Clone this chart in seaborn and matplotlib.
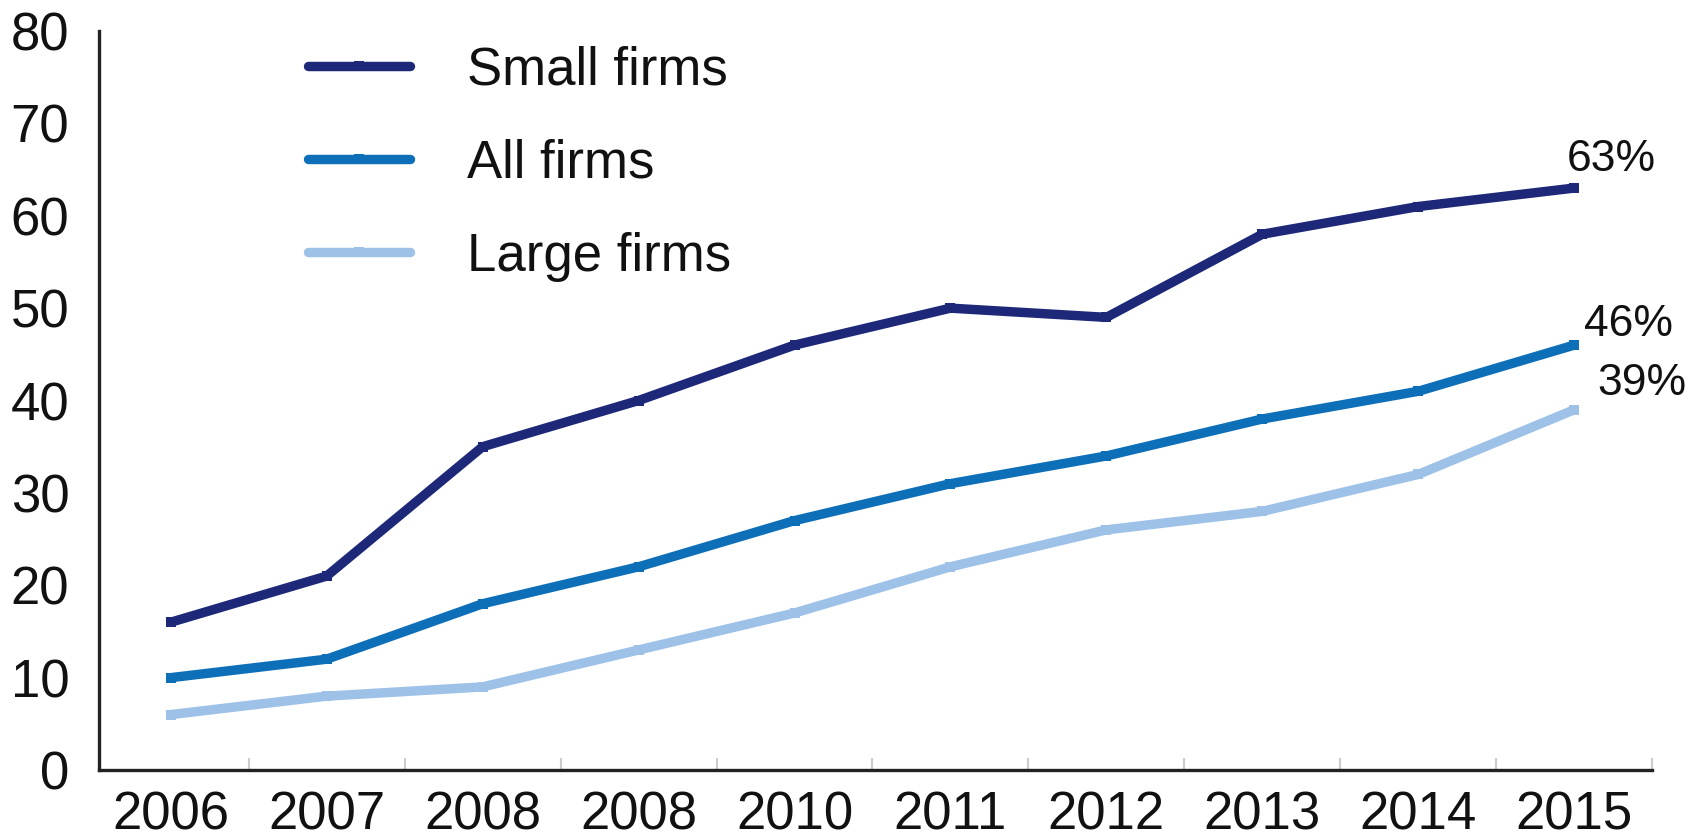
import numpy as np
import pandas as pd
import matplotlib
matplotlib.use("Agg")
import matplotlib.pyplot as plt
import seaborn as sns
from matplotlib.ticker import FixedLocator

years = ["2006", "2007", "2008", "2008", "2010", "2011", "2012", "2013", "2014", "2015"]
small_firms = [16, 21, 35, 40, 46, 50, 49, 58, 61, 63]
all_firms = [10, 12, 18, 22, 27, 31, 34, 38, 41, 46]
large_firms = [6, 8, 9, 13, 17, 22, 26, 28, 32, 39]
series_names = ["Small firms", "All firms", "Large firms"]
end_labels = ["63%", "46%", "39%"]
colors = ["#1d2878", "#0e6fb9", "#9dc1e7"]

sns.set_style("white")
plt.rcParams["font.family"] = ["Liberation Sans", "DejaVu Sans"]

# long-form table, x is the position of each year on the axis
pos = np.arange(len(years))
df = pd.DataFrame({
    "pos": np.tile(pos, 3),
    "value": small_firms + all_firms + large_firms,
    "series": np.repeat(series_names, len(years)),
})

fig = plt.figure(figsize=(16.9, 8.38), dpi=100)
ax = fig.add_axes([0.0586, 0.0811, 0.919, 0.8819])

sns.lineplot(data=df, x="pos", y="value", hue="series", hue_order=series_names,
             palette=colors, linewidth=6.8, marker="s", markersize=7,
             markeredgewidth=0, ax=ax)

# percentage labels at the end of each line
for name, lab, dy, dx in zip(series_names, end_labels, [6, 0, 4], [-5, 7, 17]):
    last = df[df["series"] == name]["value"].iloc[-1]
    ax.annotate(lab, xy=(pos[-1], last), xytext=(dx, dy), textcoords="offset points",
                ha="left", va="bottom", fontsize=32, color="#111111")

ax.set_xlim(-0.46, len(years) - 0.5)
ax.set_ylim(0, 80)
ax.set_yticks(range(0, 81, 10))
ax.set_xticks(pos)
ax.set_xticklabels(years)
ax.xaxis.set_minor_locator(FixedLocator(list(pos + 0.5)))
ax.tick_params(axis="x", which="major", bottom=False, labelsize=38, pad=11,
               labelcolor="#111111")
ax.tick_params(axis="x", which="minor", bottom=True, direction="in", length=9,
               width=1.5, color="#cccccc")
ax.tick_params(axis="y", left=False, labelsize=38, pad=18, labelcolor="#111111")
ax.set_xlabel("")
ax.set_ylabel("")

sns.despine(ax=ax)
for side in ["left", "bottom"]:
    ax.spines[side].set_linewidth(2.4)
    ax.spines[side].set_color("#222222")

ax.legend(loc="upper left", bbox_to_anchor=(0.182, 0.946), bbox_transform=fig.transFigure,
          frameon=False, fontsize=38, handlelength=1.95, handletextpad=1.08,
          labelspacing=0.82, borderpad=0, borderaxespad=0, labelcolor="#111111")

fig.savefig("out.png", dpi=100)
